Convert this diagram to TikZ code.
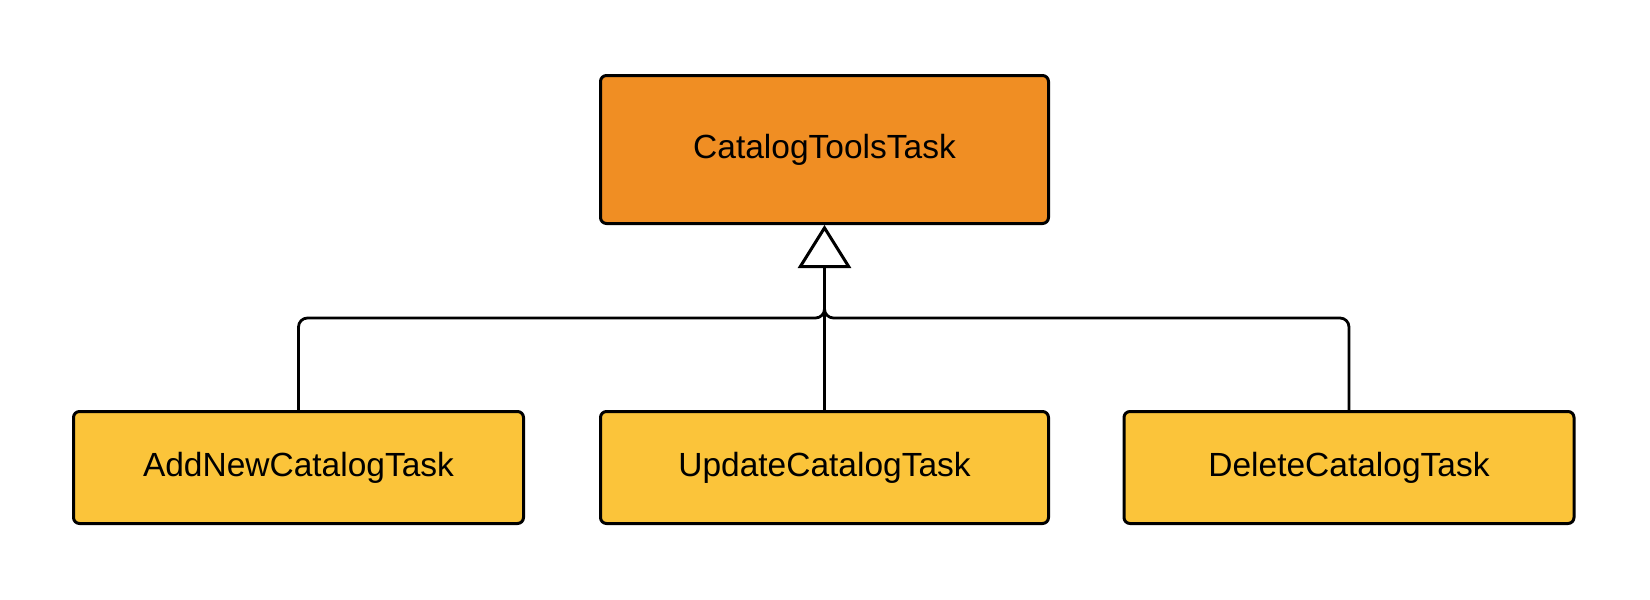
\documentclass[tikz,border=0pt]{standalone}
\usepackage{fontspec}
\setmainfont{Liberation Sans}
\usetikzlibrary{arrows.meta}
\definecolor{topfill}{RGB}{240,142,35}
\definecolor{subfill}{RGB}{251,196,58}
\begin{document}
\begin{tikzpicture}[x=1pt,y=-1pt,
  cls/.style={draw=black,line width=3pt,rounded corners=6pt,font=\fontsize{33.5}{40}\selectfont,inner sep=0pt},
  link/.style={draw=black,line width=2.8pt}]
\useasboundingbox[fill=white] (0,0) rectangle (1650,600);
\node[cls,fill=topfill,minimum width=448pt,minimum height=148pt] (top) at (824.5,149.5) {CatalogToolsTask};
\node[cls,fill=subfill,minimum width=450pt,minimum height=112pt] (l) at (298.5,467.5) {AddNewCatalogTask};
\node[cls,fill=subfill,minimum width=448pt,minimum height=112pt] (m) at (824.5,467.5) {UpdateCatalogTask};
\node[cls,fill=subfill,minimum width=450pt,minimum height=112pt] (r) at (1349,467.5) {DeleteCatalogTask};
\coordinate (j) at (824.5,318);
\coordinate (b) at (824.5,268);
\draw[link,-{Triangle[open,length=43pt,width=53pt,line width=3pt]}] (m.north) -- (top.south);
\draw[link,rounded corners=9pt] (l.north) |- (j) -- (b);
\draw[link,rounded corners=9pt] (r.north) |- (j) -- (b);
\end{tikzpicture}
\end{document}
